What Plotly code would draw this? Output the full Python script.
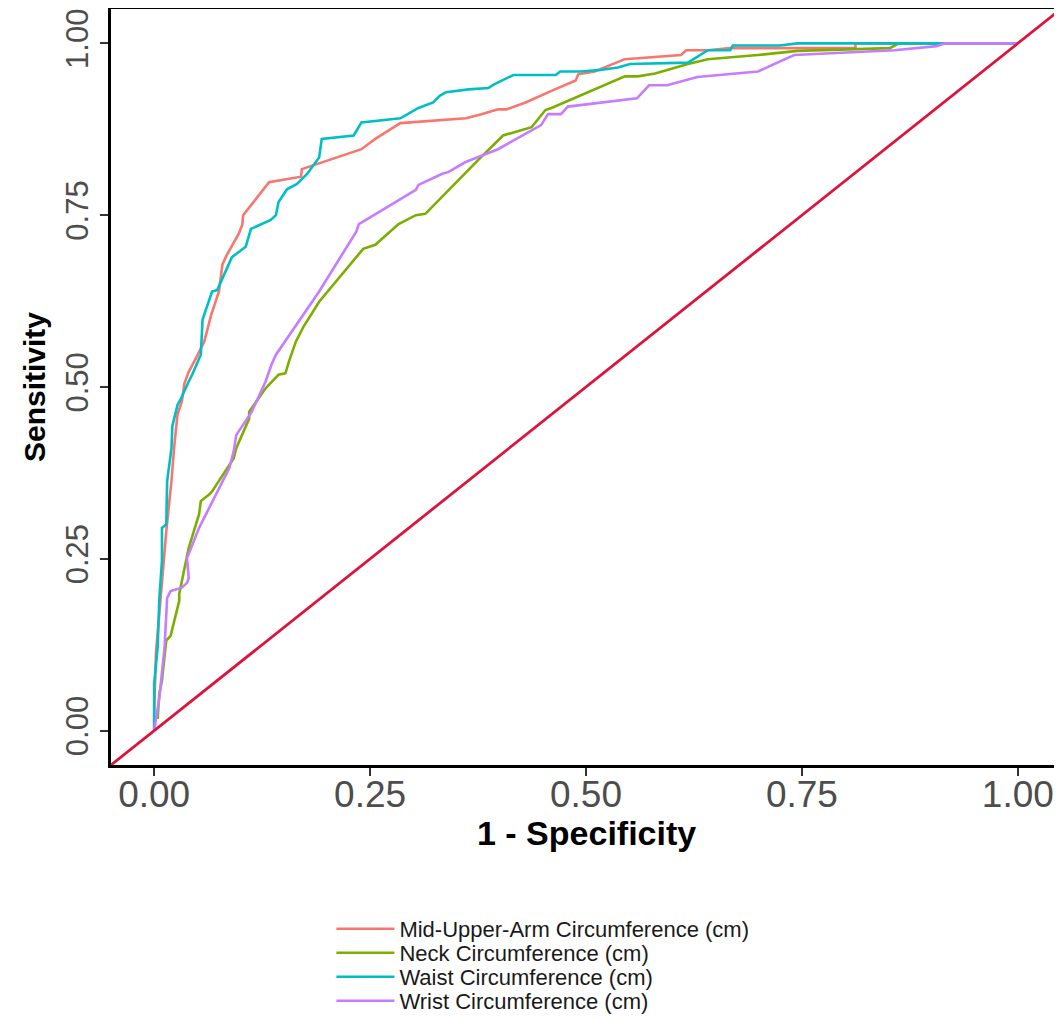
import plotly.graph_objects as go

# ---- data ----
series_names = [
    "Mid-Upper-Arm Circumference (cm)",
    "Neck Circumference (cm)",
    "Waist Circumference (cm)",
    "Wrist Circumference (cm)",
]
series_colors = ["#F8766D", "#7CAE00", "#00BFC4", "#C77CFF"]

muac_fpr = [0, 0, 0.002, 0.009, 0.014, 0.020, 0.023, 0.027, 0.032, 0.035, 0.040, 0.048, 0.058,
            0.066, 0.075, 0.079, 0.084, 0.098, 0.102, 0.103, 0.115, 0.133, 0.170, 0.171, 0.240,
            0.256, 0.285, 0.361, 0.379, 0.398, 0.408, 0.430, 0.464, 0.488, 0.491, 0.510, 0.545,
            0.610, 0.616, 0.641, 0.667, 0.812, 0.812, 1.0]
muac_tpr = [0, 0.025, 0.112, 0.218, 0.290, 0.363, 0.411, 0.460, 0.479, 0.505, 0.522, 0.541, 0.566,
            0.605, 0.639, 0.678, 0.692, 0.723, 0.736, 0.750, 0.769, 0.798, 0.806, 0.817, 0.846,
            0.861, 0.884, 0.891, 0.897, 0.904, 0.904, 0.914, 0.933, 0.946, 0.955, 0.959, 0.977,
            0.983, 0.990, 0.990, 0.993, 0.993, 1.0, 1.0]

neck_fpr = [0.004, 0.006, 0.009, 0.014, 0.019, 0.023, 0.029, 0.029, 0.037, 0.040, 0.052, 0.054,
            0.064, 0.067, 0.092, 0.095, 0.110, 0.110, 0.129, 0.144, 0.152, 0.156, 0.164, 0.173,
            0.191, 0.242, 0.256, 0.283, 0.303, 0.314, 0.375, 0.404, 0.437, 0.453, 0.460, 0.545,
            0.560, 0.580, 0.618, 0.641, 0.699, 0.745, 0.852, 0.862, 1.0]
neck_tpr = [0.017, 0.054, 0.073, 0.131, 0.138, 0.160, 0.189, 0.199, 0.247, 0.266, 0.315, 0.334,
            0.344, 0.348, 0.396, 0.411, 0.454, 0.464, 0.498, 0.518, 0.520, 0.537, 0.566, 0.588,
            0.624, 0.701, 0.707, 0.737, 0.750, 0.752, 0.830, 0.866, 0.878, 0.903, 0.906, 0.952,
            0.952, 0.956, 0.970, 0.977, 0.983, 0.989, 0.993, 1.0, 1.0]

waist_fpr = [0, 0, 0.004, 0.006, 0.009, 0.009, 0.014, 0.015, 0.020, 0.021, 0.027, 0.031, 0.040,
             0.044, 0.054, 0.056, 0.067, 0.073, 0.090, 0.106, 0.112, 0.135, 0.141, 0.144, 0.154,
             0.165, 0.177, 0.191, 0.194, 0.231, 0.240, 0.260, 0.285, 0.306, 0.323, 0.331, 0.338,
             0.364, 0.387, 0.393, 0.416, 0.465, 0.470, 0.494, 0.514, 0.537, 0.551, 0.618, 0.641,
             0.667, 0.670, 0.724, 0.745, 1.0]
waist_tpr = [0, 0.068, 0.121, 0.193, 0.247, 0.295, 0.300, 0.363, 0.411, 0.443, 0.474, 0.483, 0.508,
             0.518, 0.547, 0.598, 0.639, 0.641, 0.689, 0.704, 0.730, 0.743, 0.750, 0.769, 0.788,
             0.795, 0.810, 0.834, 0.861, 0.866, 0.885, 0.888, 0.891, 0.906, 0.914, 0.924, 0.929,
             0.933, 0.935, 0.940, 0.954, 0.954, 0.959, 0.959, 0.961, 0.965, 0.970, 0.972, 0.990,
             0.990, 0.997, 0.997, 1.0, 1.0]

wrist_fpr = [0, 0.006, 0.012, 0.015, 0.019, 0.032, 0.038, 0.040, 0.038, 0.052, 0.087, 0.092, 0.095,
             0.113, 0.129, 0.136, 0.141, 0.191, 0.234, 0.237, 0.303, 0.306, 0.333, 0.341, 0.360,
             0.398, 0.448, 0.456, 0.471, 0.479, 0.559, 0.573, 0.594, 0.629, 0.699, 0.741, 0.857,
             0.906, 0.916, 1.0]
wrist_tpr = [0, 0.048, 0.121, 0.193, 0.203, 0.208, 0.215, 0.222, 0.251, 0.295, 0.382, 0.406, 0.430,
             0.464, 0.508, 0.533, 0.547, 0.639, 0.726, 0.737, 0.787, 0.794, 0.810, 0.813, 0.827,
             0.846, 0.881, 0.897, 0.897, 0.908, 0.920, 0.939, 0.939, 0.951, 0.959, 0.983, 0.990,
             0.996, 1.0, 1.0]

tick_vals = [0, 0.25, 0.5, 0.75, 1.0]
tick_text = ["0.00", "0.25", "0.50", "0.75", "1.00"]
axis_range = [-0.05, 1.05]
x_title = "1 - Specificity"
y_title = "Sensitivity"

xs = [muac_fpr, neck_fpr, waist_fpr, wrist_fpr]
ys = [muac_tpr, neck_tpr, waist_tpr, wrist_tpr]
legend_ids = ["legend", "legend2", "legend3", "legend4"]

fig = go.Figure()
for name, col, x, y, lg in zip(series_names, series_colors, xs, ys, legend_ids):
    fig.add_trace(go.Scatter(x=x, y=y, mode="lines", name=name, legend=lg,
                             line=dict(color=col, width=2.6)))

# reference diagonal y = x across the panel
fig.add_trace(go.Scatter(x=axis_range, y=axis_range, mode="lines", showlegend=False,
                         line=dict(color="#DC143C", width=2.8), hoverinfo="skip"))

common_axis = dict(
    range=axis_range, tickvals=tick_vals, ticktext=tick_text,
    showgrid=False, zeroline=False, automargin=False,
    showline=True, linecolor="black", linewidth=3, mirror=True,
    ticks="outside", ticklen=8, tickwidth=2, tickcolor="#333333",
    ticklabeloverflow="allow",
)

leg_font = dict(family="Liberation Sans, Arial", size=22, color="#1a1a1a")
leg_common = dict(xanchor="left", yanchor="middle", x=0.232, font=leg_font,
                  bgcolor="rgba(0,0,0,0)", itemwidth=58)

# page has an 8px body margin; plot panel spans page y 9..765
plot_top, plot_bottom = 9, 765
def paper_y(px):
    return (plot_bottom - px) / (plot_bottom - plot_top)

fig.update_layout(
    width=1062, height=1021,
    margin=dict(l=103, r=9, t=1, b=264),
    paper_bgcolor="white", plot_bgcolor="white",
    xaxis=dict(**common_axis,
               tickfont=dict(family="Liberation Sans, Arial", size=37, color="#4D4D4D"),
               ticklabelstandoff=-13),
    yaxis=dict(**common_axis, tickangle=-90,
               tickfont=dict(family="Liberation Sans, Arial", size=31, color="#4D4D4D"),
               title=dict(text="<b>" + y_title + "</b>", standoff=6,
                          font=dict(family="Liberation Sans, Arial", size=30, color="black"))),
    annotations=[dict(text="<b>" + x_title + "</b>", xref="paper", yref="paper",
                      x=0.5, y=paper_y(833), xanchor="center", yanchor="middle",
                      showarrow=False,
                      font=dict(family="Liberation Sans, Arial", size=34, color="black"))],
    legend=dict(**leg_common, y=paper_y(929)),
    legend2=dict(**leg_common, y=paper_y(953)),
    legend3=dict(**leg_common, y=paper_y(977)),
    legend4=dict(**leg_common, y=paper_y(1001)),
    showlegend=True,
)

fig.write_html("out.html")
